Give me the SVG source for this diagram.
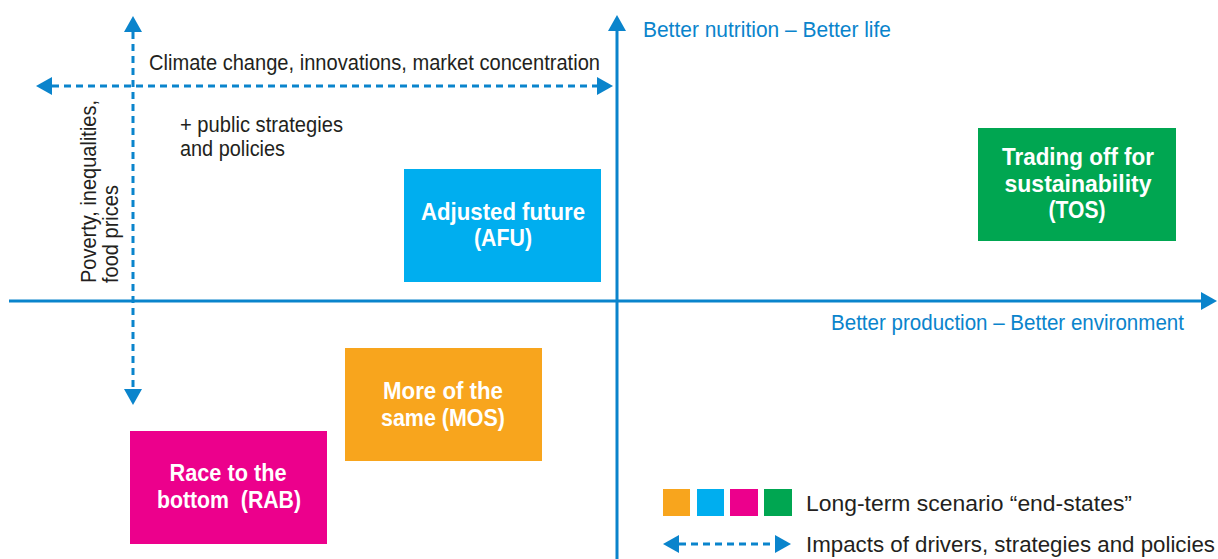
<svg xmlns="http://www.w3.org/2000/svg" width="1218" height="559" viewBox="0 0 1218 559">
<style>
.t{font-family:"Liberation Sans Narrow","Liberation Sans",Arial,sans-serif;font-size:22px;fill:#231f20}
.bt{fill:#0a84cc}
.w{font-family:"Liberation Sans Narrow","Liberation Sans",Arial,sans-serif;font-size:24px;font-weight:bold;fill:#ffffff;text-anchor:middle;white-space:pre}
.axis{stroke:#0a84cc;stroke-width:3;fill:none}
.dash{stroke:#0a84cc;stroke-width:3;fill:none;stroke-dasharray:7 5}
</style>
<defs>
<marker id="ah" viewBox="0 0 16 18" markerUnits="userSpaceOnUse" markerWidth="16" markerHeight="18" refX="0" refY="9" orient="auto-start-reverse">
<path d="M0,0 L16,9 L0,18 z" fill="#0a84cc"/>
</marker>
</defs>
<rect width="1218" height="559" fill="#ffffff"/>
<g id="connectors">
<line class="axis" x1="617" y1="559" x2="617" y2="31" marker-end="url(#ah)"/>
<line class="axis" x1="9" y1="301" x2="1201" y2="301" marker-end="url(#ah)"/>
<line class="dash" x1="52" y1="86" x2="597" y2="86" marker-start="url(#ah)" marker-end="url(#ah)"/>
<line class="dash" x1="133" y1="32" x2="133" y2="389" marker-start="url(#ah)" marker-end="url(#ah)"/>
</g>
<g id="labels">
<text class="t" x="149" y="70" textLength="451" lengthAdjust="spacingAndGlyphs">Climate change, innovations, market concentration</text>
<text class="t" x="180" y="132" textLength="163" lengthAdjust="spacingAndGlyphs">+ public strategies</text>
<text class="t" x="180" y="156" textLength="105" lengthAdjust="spacingAndGlyphs">and policies</text>
<text class="t" transform="translate(96,283) rotate(-90)" x="0" y="0" textLength="183" lengthAdjust="spacingAndGlyphs">Poverty, inequalities,</text>
<text class="t" transform="translate(118,283) rotate(-90)" x="0" y="0" textLength="98" lengthAdjust="spacingAndGlyphs">food prices</text>
<text class="t bt" x="643" y="37" textLength="248" lengthAdjust="spacingAndGlyphs">Better nutrition – Better life</text>
<text class="t bt" x="831" y="330" textLength="353" lengthAdjust="spacingAndGlyphs">Better production – Better environment</text>
</g>
<g id="node-afu">
<rect x="404" y="169" width="197" height="113" fill="#00aeef"/>
<text class="w" x="503" y="220" textLength="164" lengthAdjust="spacingAndGlyphs">Adjusted future</text>
<text class="w" x="503" y="246" textLength="58" lengthAdjust="spacingAndGlyphs">(AFU)</text>
</g>
<g id="node-tos">
<rect x="978" y="128" width="198" height="113" fill="#00a651"/>
<text class="w" x="1078" y="165" textLength="152" lengthAdjust="spacingAndGlyphs">Trading off for</text>
<text class="w" x="1078" y="192" textLength="147" lengthAdjust="spacingAndGlyphs">sustainability</text>
<text class="w" x="1077" y="218" textLength="57" lengthAdjust="spacingAndGlyphs">(TOS)</text>
</g>
<g id="node-mos">
<rect x="345" y="348" width="197" height="113" fill="#f8a51d"/>
<text class="w" x="443" y="399" textLength="120" lengthAdjust="spacingAndGlyphs">More of the</text>
<text class="w" x="443" y="426" textLength="124" lengthAdjust="spacingAndGlyphs">same (MOS)</text>
</g>
<g id="node-rab">
<rect x="130" y="431" width="197" height="113" fill="#ec008c"/>
<text class="w" x="228" y="481" textLength="117" lengthAdjust="spacingAndGlyphs">Race to the</text>
<text class="w" x="229" y="508" textLength="144" lengthAdjust="spacingAndGlyphs">bottom  (RAB)</text>
</g>
<g id="legend">
<rect x="663" y="489" width="27" height="27" fill="#f8a51d"/>
<rect x="697" y="489" width="27" height="27" fill="#00aeef"/>
<rect x="730" y="489" width="28" height="27" fill="#ec008c"/>
<rect x="764" y="489" width="28" height="27" fill="#00a651"/>
<text class="t" x="806" y="511" textLength="326" lengthAdjust="spacingAndGlyphs">Long-term scenario “end-states”</text>
<line class="dash" x1="679" y1="544" x2="775" y2="544" stroke-dasharray="7 6" marker-start="url(#ah)" marker-end="url(#ah)"/>
<text class="t" x="806" y="552" textLength="409" lengthAdjust="spacingAndGlyphs">Impacts of drivers, strategies and policies</text>
</g>
</svg>
